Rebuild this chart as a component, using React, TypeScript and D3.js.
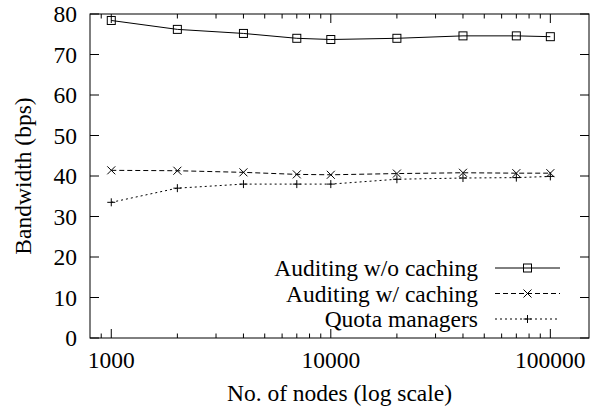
import React from "react";
import * as d3 from "d3";

const nodes = [1000, 2000, 4000, 7000, 10000, 20000, 40000, 70000, 100000];
const noCaching = [78.4, 76.2, 75.2, 74.0, 73.7, 74.0, 74.6, 74.6, 74.4];
const withCaching = [41.4, 41.3, 40.9, 40.4, 40.3, 40.6, 40.8, 40.7, 40.7];
const quota = [33.5, 37.0, 38.0, 38.0, 38.0, 39.2, 39.5, 39.6, 39.9];
const yTicks = [0, 10, 20, 30, 40, 50, 60, 70, 80];
const xMajor = [1000, 10000, 100000];
const seriesNames = ["Auditing w/o caching", "Auditing w/ caching", "Quota managers"];

const W = 595, H = 410;
const L = 90, R = 589, T = 14, B = 338;
const FS = 23.5;

export default function App() {
  const x = d3.scaleLog().domain([800, 150000]).range([L, R]);
  const y = d3.scaleLinear().domain([0, 80]).range([B, T]);
  const minor: number[] = [];
  for (let e = 2; e <= 5; e++) {
    for (let m = 2; m <= 9; m++) {
      const v = m * Math.pow(10, e);
      if (v > 800 && v < 150000 && !xMajor.includes(v)) minor.push(v);
    }
  }
  const line = d3.line<[number, number]>().x(d => x(d[0])).y(d => y(d[1]));
  const series = [
    { vals: noCaching, dash: "none", marker: "square" },
    { vals: withCaching, dash: "5,3", marker: "x" },
    { vals: quota, dash: "2,3", marker: "plus" },
  ];
  const marker = (type: string, cx: number, cy: number, k: string) => {
    const s = 4;
    if (type === "square")
      return <rect key={k} x={cx - s} y={cy - s} width={2 * s} height={2 * s} fill="none" stroke="#000" strokeWidth={1} />;
    if (type === "x")
      return <path key={k} d={`M${cx - s},${cy - s}L${cx + s},${cy + s}M${cx - s},${cy + s}L${cx + s},${cy - s}`} stroke="#000" strokeWidth={1} />;
    return <path key={k} d={`M${cx - s},${cy}L${cx + s},${cy}M${cx},${cy - s}L${cx},${cy + s}`} stroke="#000" strokeWidth={1} />;
  };
  const legendY = [268, 293.5, 319];
  const ts: React.CSSProperties = { fontFamily: "Liberation Serif", fontSize: FS };
  return (
    <svg width={W} height={H} style={{ position: "absolute", left: 0, top: 0 }}>
      <rect width={W} height={H} fill="#fff" />
      {yTicks.map(v => (
        <g key={"y" + v}>
          <line x1={L} x2={L + 9} y1={y(v)} y2={y(v)} stroke="#000" />
          <line x1={R - 9} x2={R} y1={y(v)} y2={y(v)} stroke="#000" />
          <text x={77} y={y(v)} dy="0.35em" textAnchor="end" style={ts}>{v}</text>
        </g>
      ))}
      {xMajor.map(v => (
        <g key={"x" + v}>
          <line x1={x(v)} x2={x(v)} y1={B} y2={B - 9} stroke="#000" />
          <line x1={x(v)} x2={x(v)} y1={T} y2={T + 9} stroke="#000" />
          <text x={x(v)} y={368} textAnchor="middle" style={ts}>{v}</text>
        </g>
      ))}
      {minor.map(v => (
        <g key={"m" + v}>
          <line x1={x(v)} x2={x(v)} y1={B} y2={B - 4.5} stroke="#000" />
          <line x1={x(v)} x2={x(v)} y1={T} y2={T + 4.5} stroke="#000" />
        </g>
      ))}
      <rect x={L} y={T} width={R - L} height={B - T} fill="none" stroke="#000" strokeWidth={1} />
      {series.map((s, i) => (
        <g key={"s" + i}>
          <path d={line(nodes.map((n, j) => [n, s.vals[j]]) as [number, number][]) || ""} fill="none" stroke="#000" strokeWidth={1} strokeDasharray={s.dash} />
          {nodes.map((n, j) => marker(s.marker, x(n), y(s.vals[j]), `mk${i}-${j}`))}
        </g>
      ))}
      {series.map((s, i) => (
        <g key={"l" + i}>
          <text x={478} y={legendY[i]} dy="0.35em" textAnchor="end" style={ts}>{seriesNames[i]}</text>
          <line x1={495} x2={560} y1={legendY[i]} y2={legendY[i]} stroke="#000" strokeWidth={1} strokeDasharray={s.dash} />
          {marker(s.marker, 527.5, legendY[i], `lm${i}`)}
        </g>
      ))}
      <text x={(L + R) / 2} y={401} textAnchor="middle" style={ts}>No. of nodes (log scale)</text>
      <text transform={`translate(31,${(T + B) / 2}) rotate(-90)`} textAnchor="middle" style={ts}>Bandwidth (bps)</text>
    </svg>
  );
}
